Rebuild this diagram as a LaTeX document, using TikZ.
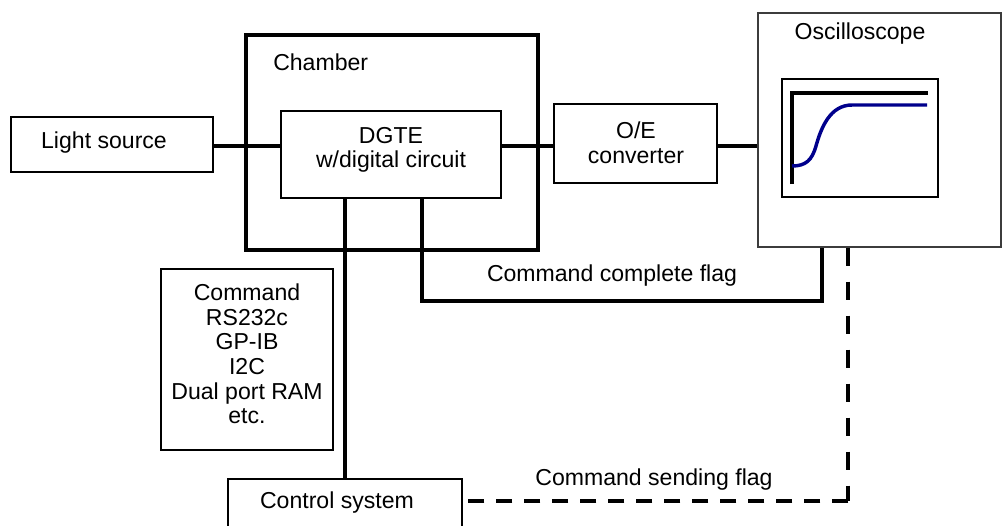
\documentclass[tikz,border=0pt]{standalone}
\usepackage{fontspec}
\setmainfont{Liberation Sans}
\usetikzlibrary{fit,calc}
\definecolor{curveblue}{RGB}{0,0,140}
\definecolor{boxgray}{RGB}{60,60,60}
\begin{document}
\begin{tikzpicture}[x=0.75pt,y=-0.75pt,
  lbl/.style={inner sep=0pt, align=center, yshift=-2.25pt, font=\fontsize{17.3}{18.5}\selectfont},
  box/.style={draw, line width=1pt, inner sep=0pt},
  thickbox/.style={draw, line width=3pt, inner sep=0pt},
  wire/.style={line width=3pt},
  vdash/.style={line width=3pt, dash pattern=on 13.5pt off 12pt},
  hdash/.style={line width=3pt, dash pattern=on 12pt off 9pt}]
\useasboundingbox (0,0) rectangle (1003,525);
\clip (0,0) rectangle (1003,525);
% boxes
\node[box, fit={(11,117)(213,172)}] (light) {};
\node[lbl] (lighttxt) at (104,140) {Light source};
\node[thickbox, fit={(246,35)(538,250)}] (chamber) {};
\node[lbl, anchor=base west, yshift=2.25pt] (chamberlbl) at (273,70) {Chamber};
\node[box, fit={(281,111)(501,198)}] (dgte) {};
\node[lbl] (dgtetxt) at (391,147) {DGTE\\w/digital circuit};
\node[box, fit={(554,104)(717,183)}] (oe) {};
\node[lbl] (oetxt) at (636,140) {O/E\\converter};
\node[draw=boxgray, line width=1pt, inner sep=0pt, fit={(758,13)(1001,247)}] (osc) {};
\node[lbl] (osclbl) at (860,31) {Oscilloscope};
\node[box, fit={(782,79)(938,197)}] (screen) {};
\node[box, fit={(161,269)(333,450)}] (cmdbox) {};
\node[lbl] (cmdtxt) at (247,351) {Command\\RS232c\\GP-IB\\I2C\\Dual port RAM\\etc.};
\node[box, fit={(228,479)(462,565)}] (ctrl) {};
\node[lbl] (ctrltxt) at (337,500) {Control system};
% scope trace
\draw[wire] (792,184) -- (792,93) -- (928,93);
\draw[line width=2.6pt, curveblue] (792,166) .. controls (806,166) and (812,160) .. (816,146)
  .. controls (821,128) and (830,105) .. (852,105) -- (927,105);
% connectors
\coordinate (lw) at ($(light.east)+(0,1)$);
\draw[wire] (lw) -- (lw -| dgte.west);
\coordinate (ow) at ($(oe.west)+(0,2.5)$);
\draw[wire] (ow -| dgte.east) -- (ow);
\draw[wire] (ow -| oe.east) -- (ow -| osc.west);
\coordinate (d1) at ($(dgte.south west)+(65,0)$);
\coordinate (d2) at ($(dgte.south west)+(142,0)$);
\coordinate (o1) at ($(osc.south west)+(65,0)$);
\coordinate (o2) at ($(osc.south west)+(91,0)$);
\coordinate (c1) at ($(dgte.south west)+(142,102)$);
\coordinate (c2) at ($(ctrl.north east)+(0,23)$);
\draw[wire] (d1) -- (d1 |- ctrl.north);
\draw[wire] (d2) -- (c1) -- (c1 -| o1) -- (o1);
\draw[vdash] (o2) -- (o2 |- c2);
\draw[hdash] (o2 |- c2) -- (c2);
% flag labels
\node[lbl] (cclbl) at (612,273) {Command complete flag};
\node[lbl] (cslbl) at (654,477) {Command sending flag};
\end{tikzpicture}
\end{document}
